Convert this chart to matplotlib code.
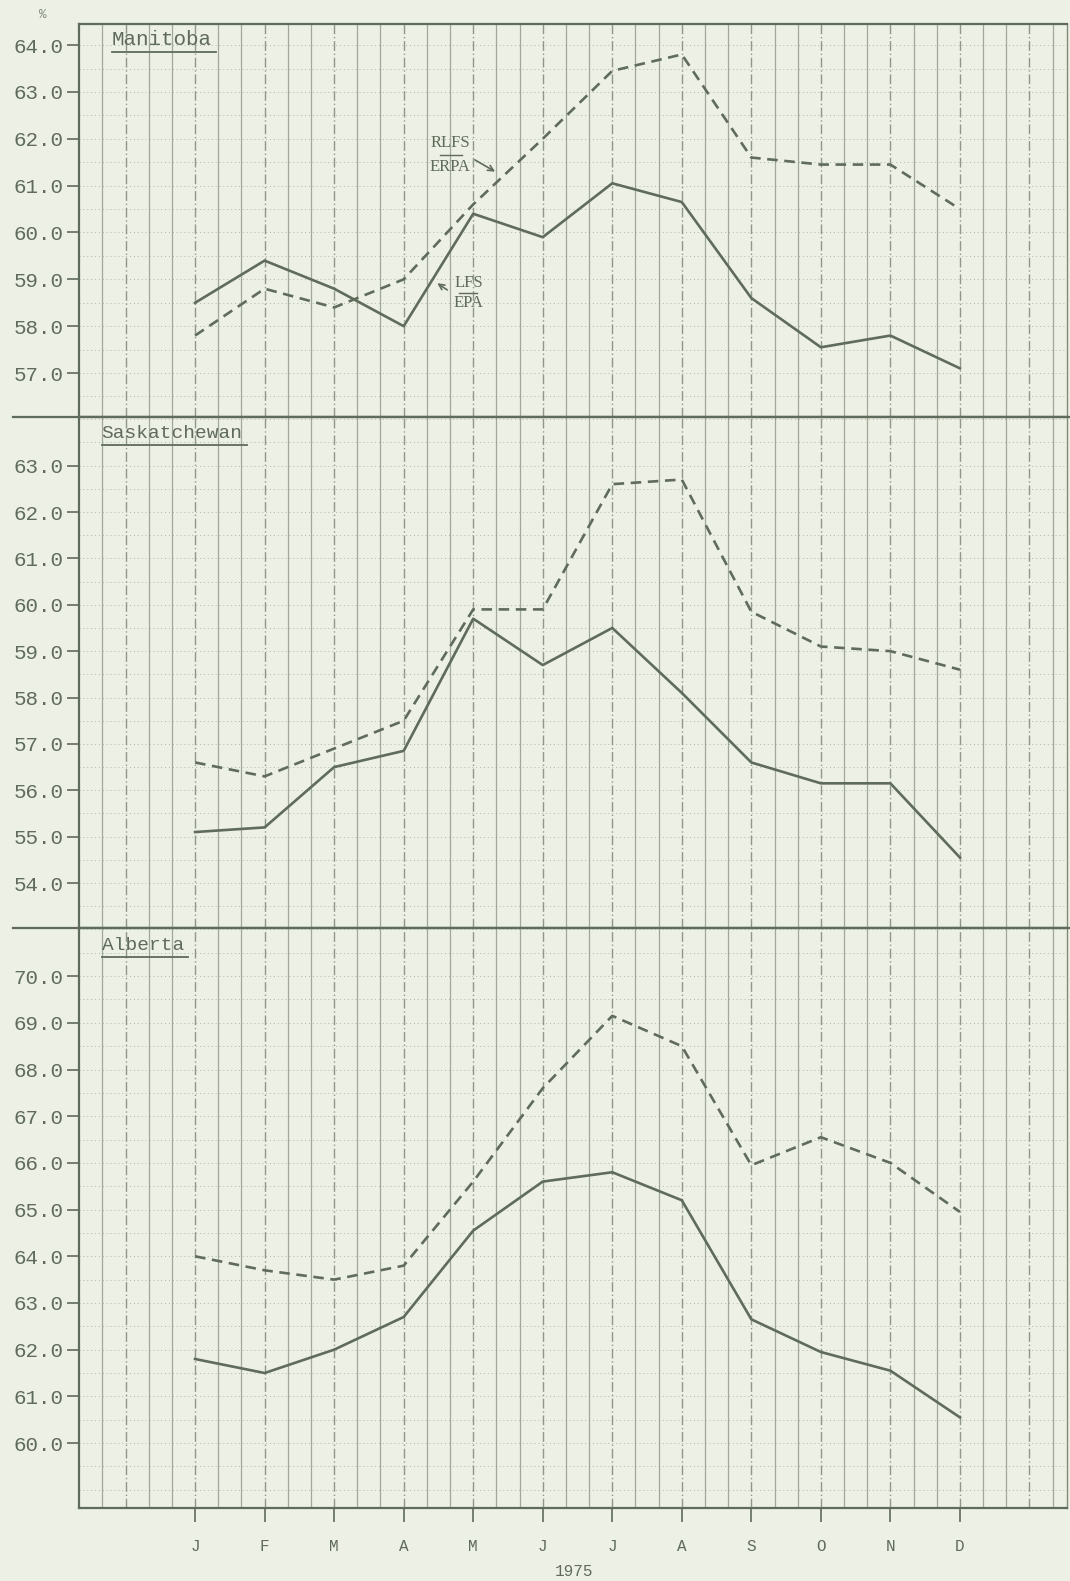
import numpy as np
import matplotlib.pyplot as plt
from matplotlib.lines import Line2D

# months of 1975, J..D
months = ['J', 'F', 'M', 'A', 'M', 'J', 'J', 'A', 'S', 'O', 'N', 'D']
year_label = '1975'

# LFS/EPA (solid) and RLFS/ERPA (dashed), in %
manitoba_lfs = [58.5, 59.4, 58.8, 58.0, 60.4, 59.9, 61.05, 60.65, 58.6, 57.55, 57.8, 57.1]
manitoba_rlfs = [57.8, 58.8, 58.4, 59.0, 60.6, 62.0, 63.45, 63.8, 61.6, 61.45, 61.45, 60.5]
sask_lfs = [55.1, 55.2, 56.5, 56.85, 59.7, 58.7, 59.5, 58.1, 56.6, 56.15, 56.15, 54.55]
sask_rlfs = [56.6, 56.3, 56.9, 57.5, 59.9, 59.9, 62.6, 62.7, 59.85, 59.1, 59.0, 58.6]
alberta_lfs = [61.8, 61.5, 62.0, 62.7, 64.55, 65.6, 65.8, 65.2, 62.65, 61.95, 61.55, 60.55]
alberta_rlfs = [64.0, 63.7, 63.5, 63.8, 65.6, 67.6, 69.15, 68.5, 65.95, 66.55, 66.0, 64.95]

manitoba_ticks = [57.0, 58.0, 59.0, 60.0, 61.0, 62.0, 63.0, 64.0]
sask_ticks = [54.0, 55.0, 56.0, 57.0, 58.0, 59.0, 60.0, 61.0, 62.0, 63.0]
alberta_ticks = [60.0, 61.0, 62.0, 63.0, 64.0, 65.0, 66.0, 67.0, 68.0, 69.0, 70.0]

bg = '#edf0e5'
ink = '#5f6b5b'
grid_c = '#7f8a79'
mono = ['Liberation Mono', 'DejaVu Sans Mono']
serif = ['Liberation Serif', 'DejaVu Serif']

x = np.arange(1, 13)
xlim = (-0.67, 13.54)

fig = plt.figure(figsize=(10.7, 15.81), dpi=100, facecolor=bg)


def panel(rect, lfs, rlfs, ticks, ylim, name, name_size, name_x, last=False):
    ax = fig.add_axes(rect, facecolor=bg)
    ax.set_xlim(*xlim)
    ax.set_ylim(*ylim)

    # chart paper: vertical lines every third of a month, dotted rows every 0.5
    xs = 1 + np.arange(-5, 38) / 3
    xs = xs[(xs > xlim[0] + 0.05) & (xs < xlim[1])]
    for xv in xs:
        if round((xv - 1) * 3) % 3 == 0:
            ax.axvline(xv, color=grid_c, lw=1.0, ls=(0, (7, 2, 1, 2)), alpha=0.85, zorder=1)
        else:
            ax.axvline(xv, color=grid_c, lw=0.9, alpha=0.7, zorder=1)
    ys = np.arange(np.ceil(ylim[0] * 2) / 2, ylim[1], 0.5)
    for yv in ys:
        ax.axhline(yv, color=grid_c, lw=0.7, ls=(0, (1, 3)), alpha=0.55, zorder=1)

    ax.plot(x, lfs, color=ink, lw=1.9, zorder=3)
    ax.plot(x, rlfs, color=ink, lw=1.9, ls=(0, (4, 2.5)), zorder=3)

    ax.set_yticks(ticks)
    ax.set_yticklabels(['%.1f' % t for t in ticks], family=mono, fontsize=15, color=ink)
    ax.tick_params(axis='y', direction='out', length=9, width=1.2, color=ink, pad=2)
    if last:
        ax.set_xticks(x)
        ax.set_xticklabels(months, family=mono, fontsize=11.5, color=ink)
        ax.tick_params(axis='x', direction='out', length=10, width=1.2, color=ink, pad=12)
    else:
        ax.set_xticks([])

    for s in ['left', 'bottom', 'top']:
        ax.spines[s].set_color(ink)
        ax.spines[s].set_linewidth(1.6)
    ax.spines['right'].set_color(grid_c)
    ax.spines['right'].set_linewidth(1.0)

    t = ax.text(name_x, 0.985, name, transform=ax.transAxes, family=mono,
                fontsize=name_size, color=ink, va='top', ha='left', zorder=4)
    return ax, t


ax1, t1 = panel([0.0738, 0.7362, 0.9234, 0.2486], manitoba_lfs, manitoba_rlfs,
                manitoba_ticks, (56.06, 64.45), 'Manitoba', 15, 0.033)
ax2, t2 = panel([0.0738, 0.4130, 0.9234, 0.3230], sask_lfs, sask_rlfs,
                sask_ticks, (53.03, 64.04), 'Saskatchewan', 14, 0.023)
ax3, t3 = panel([0.0738, 0.0462, 0.9234, 0.3668], alberta_lfs, alberta_rlfs,
                alberta_ticks, (58.61, 71.03), 'Alberta', 14, 0.023, last=True)

# labels for the two series (Manitoba panel)
ax1.text(4.67, 61.91, 'RLFS', family=serif, fontsize=12, color=ink, ha='center', va='center')
ax1.text(4.67, 61.40, 'ERPA', family=serif, fontsize=12, color=ink, ha='center', va='center')
ax1.plot([4.52, 4.84], [61.66, 61.66], color=ink, lw=1.0)
ax1.annotate('', xy=(5.35, 61.27), xytext=(4.99, 61.58),
             arrowprops=dict(arrowstyle='->', color=ink, lw=1.2))
ax1.text(4.93, 58.93, 'LFS', family=serif, fontsize=12, color=ink, ha='center', va='center')
ax1.text(4.93, 58.50, 'EPA', family=serif, fontsize=12, color=ink, ha='center', va='center')
ax1.plot([4.80, 5.05], [58.71, 58.71], color=ink, lw=1.0)
ax1.annotate('', xy=(4.45, 58.95), xytext=(4.66, 58.74),
             arrowprops=dict(arrowstyle='->', color=ink, lw=1.2))

fig.text(574 / 1070, 1 - 1572 / 1581, year_label, family=mono, fontsize=11.5,
         color=ink, ha='center', va='center')
fig.text(43 / 1070, 1 - 15 / 1581, '%', family=mono, fontsize=9,
         color=grid_c, ha='center', va='center')

# dividers between panels run out to the left margin
for ax in (ax1, ax2):
    yb = ax.get_position().y0
    fig.add_artist(Line2D([0.012, 1.0], [yb, yb], color=ink, lw=1.6,
                          transform=fig.transFigure))

# underline the province names
fig.canvas.draw()
r = fig.canvas.get_renderer()
for t in (t1, t2, t3):
    bb = t.get_window_extent(renderer=r).transformed(fig.transFigure.inverted())
    fig.add_artist(Line2D([bb.x0, bb.x1 + 0.004], [bb.y0 - 0.002, bb.y0 - 0.002],
                          color=ink, lw=1.3, transform=fig.transFigure))

fig.savefig('out.png', dpi=100, facecolor=bg)
